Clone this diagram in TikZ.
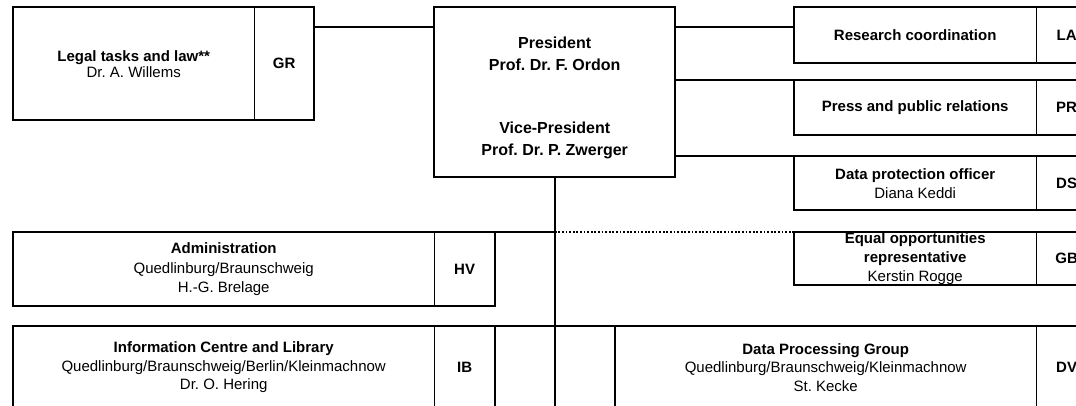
\documentclass[tikz,border=0pt]{standalone}
\usepackage{fontspec}
\setmainfont{Liberation Sans}
\usetikzlibrary{positioning}
\frenchspacing

\tikzset{
  unit/.style={inner sep=0pt, align=center, anchor=north west,
    font=\fontsize{15}{19.5}\selectfont},
  abbrev/.style={inner sep=0pt, minimum width=60pt,
    font=\fontsize{15}{19.5}\selectfont\bfseries},
  unitframe/.style={line width=2pt},
  divider/.style={line width=0.9pt},
  orgline/.style={line width=2pt},
  dottedline/.style={line width=2pt, dash pattern=on 1.8pt off 1.8pt},
}

\begin{document}
\begin{tikzpicture}[x=1pt, y=-1pt]

  \useasboundingbox (0,0) rectangle (1076,406);
  \clip (0,0) rectangle (1076,406);

  % Define nodes

  % Legal tasks
  \node[unit, minimum width=241pt, minimum height=113pt, font=\fontsize{15}{16}\selectfont] (legal) at (13,7)
    {\textbf{Legal tasks and law**}\\Dr. A. Willems} ; %
  \node[abbrev, minimum width=59pt, minimum height=113pt, right=0pt of legal] (legal-ab) {GR} ; %

  % President and Vice-President
  \node[unit, minimum width=241pt, minimum height=170pt] (pres) at (434,7) {} ; %
  \node[align=center, inner sep=0pt, font=\fontsize{16}{22}\selectfont\bfseries, yshift=-6pt] (pres-t) at (pres.center)
    {President\\Prof. Dr. F. Ordon\\[41pt]Vice-President\\Prof. Dr. P. Zwerger} ; %

  % staff units right
  \node[unit, minimum width=242pt, minimum height=56pt] (res) at (794,7) {\textbf{Research coordination}} ; %
  \node[abbrev, minimum height=56pt, right=0pt of res] (res-ab) {LA} ; %
  \node[unit, minimum width=242pt, minimum height=55pt] (pr) at (794,80) {\textbf{Press and public relations}} ; %
  \node[abbrev, minimum height=55pt, right=0pt of pr] (pr-ab) {PR} ; %
  \node[unit, minimum width=242pt, minimum height=54pt, font=\fontsize{15}{19}\selectfont] (ds) at (794,156)
    {\textbf{Data protection officer}\\Diana Keddi} ; %
  \node[abbrev, minimum height=54pt, right=0pt of ds] (ds-ab) {DS} ; %
  \node[unit, minimum width=242pt, minimum height=53pt, font=\fontsize{15}{19.2}\selectfont] (gb) at (794,232)
    {\textbf{Equal opportunities}\\\textbf{representative}\\Kerstin Rogge} ; %
  \node[abbrev, minimum height=53pt, right=0pt of gb] (gb-ab) {GB} ; %

  % departments
  \node[unit, minimum width=421pt, minimum height=74pt] (adm) at (13,232)
    {\textbf{Administration}\\Quedlinburg/Braunschweig\\H.-G. Brelage} ; %
  \node[abbrev, minimum height=74pt, right=0pt of adm] (adm-ab) {HV} ; %
  \node[unit, minimum width=421pt, minimum height=82pt, font=\fontsize{15}{18.5}\selectfont] (ib) at (13,326)
    {\textbf{Information Centre and Library}\\Quedlinburg/Braunschweig/Berlin/Kleinmachnow\\Dr. O. Hering} ; %
  \node[abbrev, minimum height=82pt, right=0pt of ib] (ib-ab) {IB} ; %
  \node[unit, minimum width=421pt, minimum height=82pt, font=\fontsize{15}{18.5}\selectfont] (dp) at (615,326)
    {\textbf{Data Processing Group}\\Quedlinburg/Braunschweig/Kleinmachnow\\St. Kecke} ; %
  \node[abbrev, minimum height=82pt, right=0pt of dp] (dp-ab) {DV} ; %

  \coordinate (trunk-end) at (pres.south |- 0,410) ; %

  % frames
  \draw[unitframe] (pres.north west) rectangle (pres.south east) ;
  \foreach \u in {legal,res,pr,ds,gb,adm,ib,dp} {
    \draw[unitframe] (\u.north west) rectangle (\u-ab.south east) ;
    \draw[divider] (\u-ab.north west) -- (\u-ab.south west) ;
  }

  % lines
  \draw[orgline] ([yshift=-20pt]legal-ab.north east) -- ([yshift=-20pt]pres.north west) ;
  \draw[orgline] ([yshift=-20pt]pres.north east) -- ([yshift=-20pt]res.north west) ;
  \draw[orgline] (pres.east |- pr.north) -- (pr.north west) ;
  \draw[orgline] (pres.east |- ds.north) -- (ds.north west) ;
  \draw[orgline] (pres.south) -- (trunk-end) ;
  \draw[orgline] (adm-ab.north east) -- (pres.south |- adm.north) ;
  \draw[dottedline] (pres.south |- gb.north) -- (gb.north west) ;
  \draw[orgline] (ib-ab.north east) -- (dp.north west) ;

\end{tikzpicture}
\end{document}
